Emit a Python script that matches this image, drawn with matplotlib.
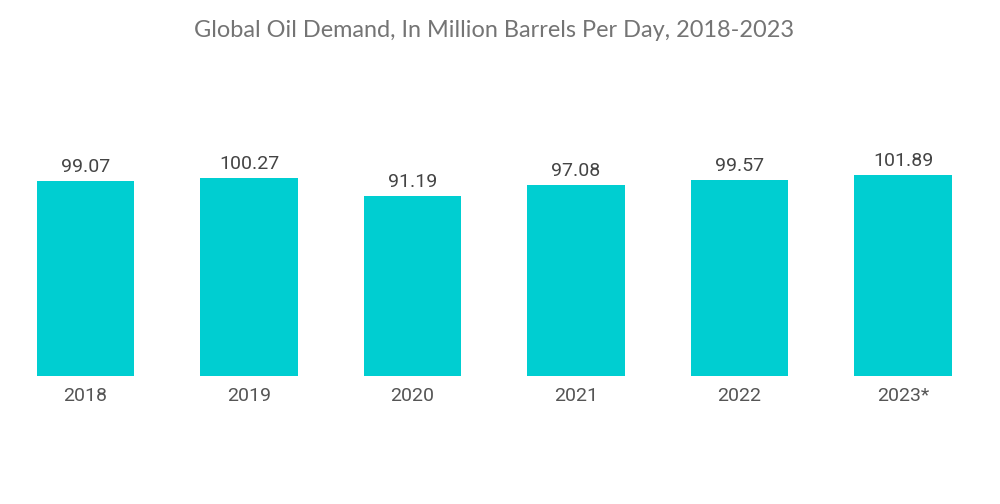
import matplotlib
matplotlib.use("Agg")
import matplotlib.pyplot as plt

years = ["2018", "2019", "2020", "2021", "2022", "2023*"]
demand = [99.07, 100.27, 91.19, 97.08, 99.57, 101.89]

bar_color = "#00ced1"
text_color = "#555555"

fig = plt.figure(figsize=(10, 5.04), dpi=100)
ax = fig.add_axes([0.00375, 0.254, 0.981, 0.587])

x = range(len(years))
bars = ax.bar(x, demand, width=0.595, color=bar_color)
ax.set_xlim(-0.5, len(years) - 0.5)
ax.set_ylim(0, 150)

for xi, v in zip(x, demand):
    ax.text(xi, v + 2.5, f"{v:.2f}", ha="center", va="bottom",
            fontsize=14, color="#444444", family="Roboto")

ax.set_xticks(list(x))
ax.set_xticklabels(years, fontsize=14, color=text_color, family="Roboto")
ax.tick_params(axis="x", length=0, pad=8)
ax.set_yticks([])
for s in ax.spines.values():
    s.set_visible(False)

fig.text(0.494, 0.94, "Global Oil Demand, In Million Barrels Per Day, 2018-2023",
         ha="center", va="center", fontsize=16.9, color="#747474",
         family="Lato")

fig.savefig("out.png", dpi=100)
